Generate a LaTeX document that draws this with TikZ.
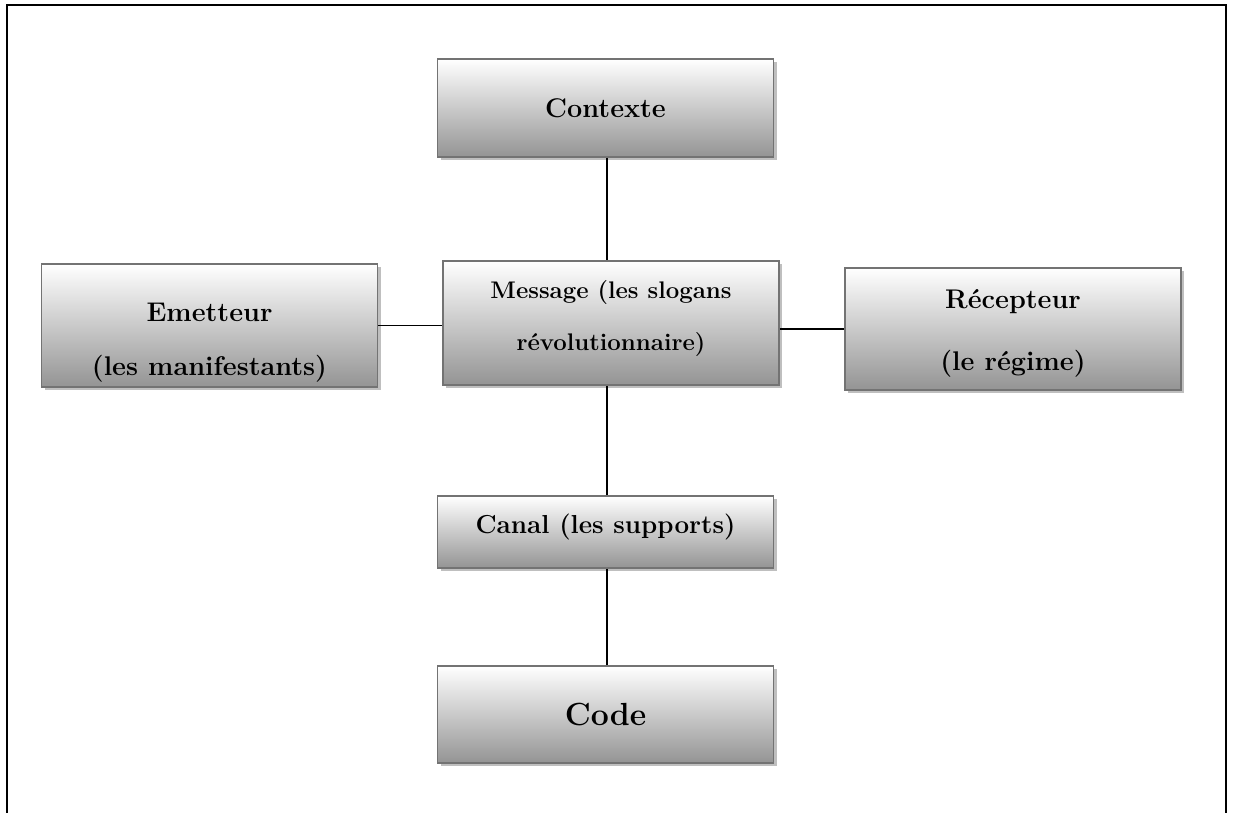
\documentclass[tikz,border=0pt]{standalone}
\usetikzlibrary{shadows}

\begin{document}
\begin{tikzpicture}[x=0.5pt, y=-0.5pt,
    box/.style={draw=black!55, line width=0.8pt, top color=white, bottom color=black!42,
      drop shadow={shadow xshift=1.5pt, shadow yshift=-1.5pt, fill=black!25, opacity=1},
      inner sep=0pt, minimum width=168pt},
    boxtext/.style={align=center, inner sep=0pt, font=\fontsize{13.5}{27}\selectfont\bfseries},
    link/.style={line width=0.8pt}]
  \useasboundingbox (0,0) rectangle (1233,813);
  % open frame round the schema
  \draw[line width=1pt] (7,813) -- (7,5) -- (1226,5) -- (1226,813);
  % boxes, placed at pixel centres
  \node[box, minimum height=49pt] (ctx) at (605.5,108) {};
  \node[box, minimum height=61.5pt] (emt) at (209.5,325.5) {};
  \node[box, minimum height=62pt] (msg) at (611,323) {};
  \node[box, minimum height=61pt] (rec) at (1013,329) {};
  \node[box, minimum height=36pt] (can) at (605.5,532) {};
  \node[box, minimum height=48.5pt] (code) at (605.5,714.5) {};
  % texts
  \node[boxtext] (ctx-t) at (ctx.center) {Contexte};
  \node[boxtext] (emt-t) at ([yshift=-8.5pt]emt.center) {Emetteur\\(les manifestants)};
  \node[boxtext, font=\fontsize{12}{26}\selectfont\bfseries] (msg-t) at ([yshift=2pt]msg.center) {Message (les slogans\\r\'evolutionnaire)};
  \node[boxtext, font=\fontsize{13.5}{31}\selectfont\bfseries] (rec-t) at ([yshift=-2pt]rec.center) {R\'ecepteur\\(le r\'egime)};
  \node[boxtext, font=\fontsize{13}{16}\selectfont\bfseries] (can-t) at ([yshift=2.5pt]can.center) {Canal (les supports)};
  \node[boxtext, font=\fontsize{16}{20}\selectfont\bfseries] (code-t) at (code.center) {Code};
  % connectors
  \draw[link] ([xshift=0.75pt]ctx.south) -- ([xshift=0.75pt]ctx.south |- msg.north);
  \draw[link] (emt.east) -- (emt.east -| msg.west);
  \draw[link] (rec.west -| msg.east) -- (rec.west);
  \draw[link] ([xshift=0.75pt]can.north |- msg.south) -- ([xshift=0.75pt]can.north);
  \draw[link] ([xshift=0.75pt]can.south) -- ([xshift=0.75pt]code.north);
\end{tikzpicture}
\end{document}
